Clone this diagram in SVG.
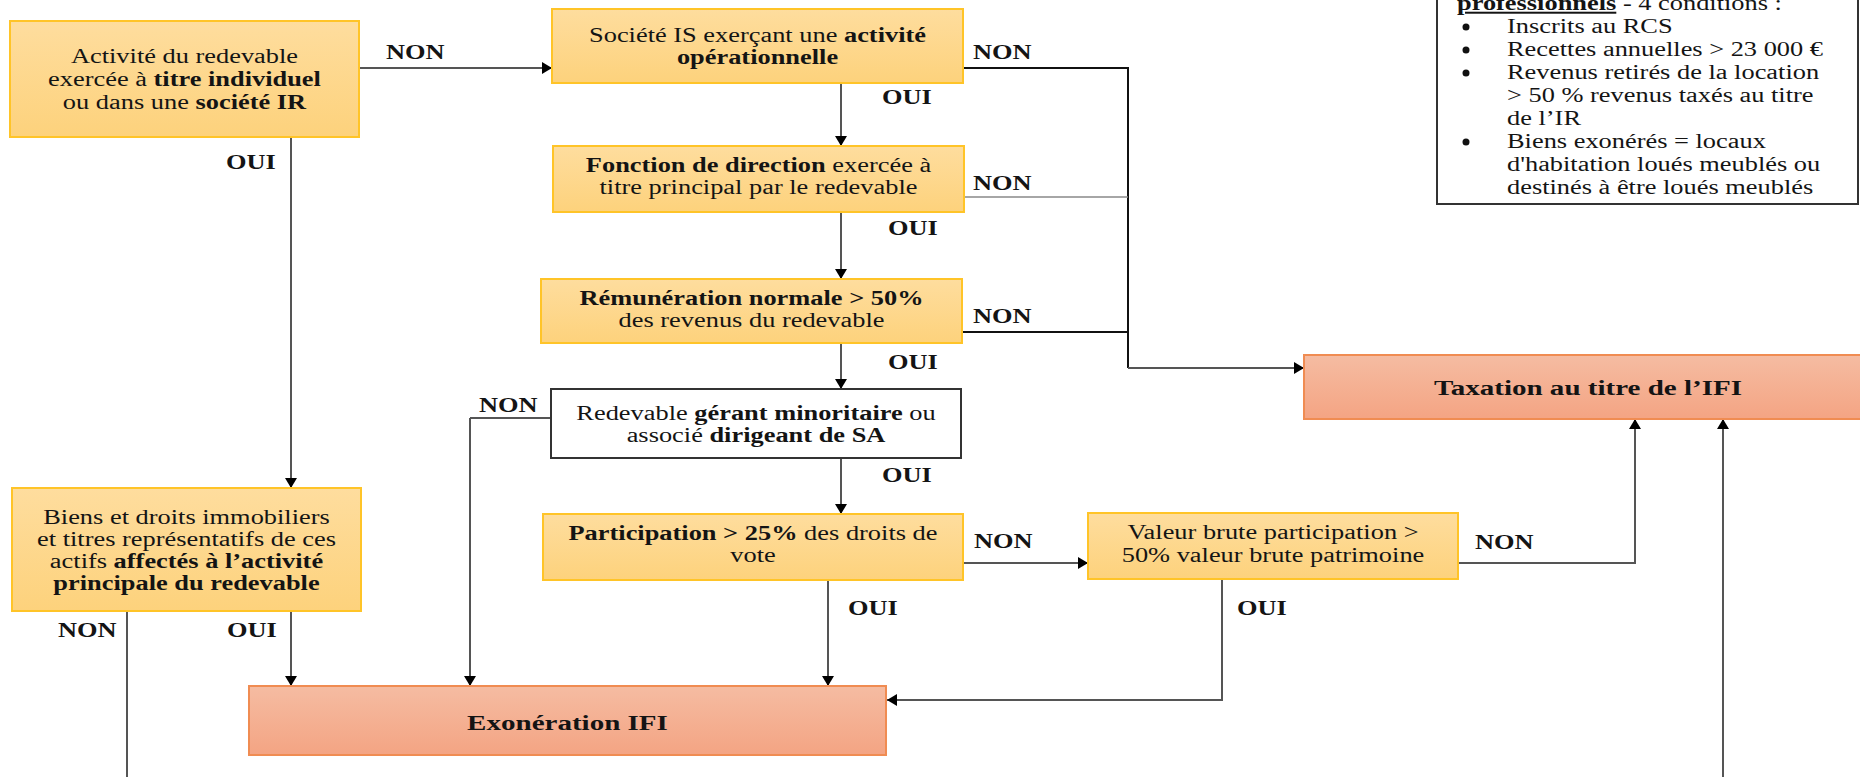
<svg xmlns="http://www.w3.org/2000/svg" width="1860" height="777" viewBox="0 0 1860 777">
<style>
text{font-family:"Liberation Serif","Times New Roman",serif;font-size:20px;fill:#141414}
.b{font-weight:bold}
.big{font-size:22px;font-weight:bold}
.yel{fill:url(#gy);stroke:#FFC428;stroke-width:2}
.sal{fill:url(#gs);stroke:#F08C52;stroke-width:2}
.wht{fill:#fff;stroke:#333;stroke-width:2}
.c{fill:none;stroke:#555;stroke-width:2}
.ca{fill:none;stroke:#555;stroke-width:2;marker-end:url(#ah)}
.thin{fill:none;stroke:#888;stroke-width:1.5}
.dk{fill:none;stroke:#111;stroke-width:2}
</style>
<defs>
<linearGradient id="gy" x1="0" y1="0" x2="0" y2="1"><stop offset="0" stop-color="#FEDD9E"/><stop offset="1" stop-color="#FDD27C"/></linearGradient>
<linearGradient id="gs" x1="0" y1="0" x2="0" y2="1"><stop offset="0" stop-color="#F5BCA2"/><stop offset="1" stop-color="#F4A483"/></linearGradient>
<marker id="ah" markerWidth="12" markerHeight="12" refX="10" refY="6" orient="auto" markerUnits="userSpaceOnUse"><path d="M0,0 L10,6 L0,12 Z" fill="#000"/></marker>
</defs>
<rect width="1860" height="777" fill="#fff"/>

<g id="connectors">
<path class="ca" d="M359,68 H552"/>
<path class="ca" d="M291,137 V488"/>
<path class="ca" d="M841,83 V146"/>
<path class="ca" d="M841,212 V279"/>
<path class="ca" d="M841,343 V389"/>
<path class="ca" d="M841,458 V514"/>
<path class="dk" d="M963,68 H1128 V368"/>
<path class="ca" d="M1128,368 H1304"/>
<path class="thin" d="M964,197 H1128"/>
<path class="dk" d="M962,332 H1128"/>
<path class="c" d="M551,418 H470"/>
<path class="ca" d="M470,418 V686"/>
<path class="ca" d="M828,580 V686"/>
<path class="ca" d="M963,563 H1088"/>
<path class="ca" d="M1222,579 V700 H887"/>
<path class="ca" d="M1458,563 H1635 V419"/>
<path class="ca" d="M1723,777 V419"/>
<path class="ca" d="M291,611 V686"/>
<path class="c" d="M127,611 V777"/>
</g>

<g id="labels">
<text class="b" transform="translate(386 0) scale(1.32 1)" y="59">NON</text>
<text class="b" transform="translate(226 0) scale(1.32 1)" y="169">OUI</text>
<text class="b" transform="translate(973 0) scale(1.32 1)" y="59">NON</text>
<text class="b" transform="translate(882 0) scale(1.32 1)" y="104">OUI</text>
<text class="b" transform="translate(973 0) scale(1.32 1)" y="190">NON</text>
<text class="b" transform="translate(888 0) scale(1.32 1)" y="235">OUI</text>
<text class="b" transform="translate(973 0) scale(1.32 1)" y="323">NON</text>
<text class="b" transform="translate(888 0) scale(1.32 1)" y="369">OUI</text>
<text class="b" transform="translate(479 0) scale(1.32 1)" y="412">NON</text>
<text class="b" transform="translate(882 0) scale(1.32 1)" y="482">OUI</text>
<text class="b" transform="translate(974 0) scale(1.32 1)" y="548">NON</text>
<text class="b" transform="translate(848 0) scale(1.32 1)" y="615">OUI</text>
<text class="b" transform="translate(1475 0) scale(1.32 1)" y="549">NON</text>
<text class="b" transform="translate(1237 0) scale(1.32 1)" y="615">OUI</text>
<text class="b" transform="translate(58 0) scale(1.32 1)" y="637">NON</text>
<text class="b" transform="translate(227 0) scale(1.32 1)" y="637">OUI</text>
</g>

<g id="n1">
<rect class="yel" x="10" y="21" width="349" height="116"/>
<text transform="translate(184.5 0) scale(1.32 1)" text-anchor="middle"><tspan x="0" y="63">Activité du redevable</tspan><tspan x="0" y="86">exercée à <tspan class="b">titre individuel</tspan></tspan><tspan x="0" y="109">ou dans une <tspan class="b">société IR</tspan></tspan></text>
</g>

<g id="n2">
<rect class="yel" x="552" y="9" width="411" height="74"/>
<text transform="translate(757.5 0) scale(1.32 1)" text-anchor="middle"><tspan x="0" y="42">Société IS exerçant une <tspan class="b">activité</tspan></tspan><tspan x="0" y="64" class="b">opérationnelle</tspan></text>
</g>

<g id="n3">
<rect class="yel" x="553" y="146" width="411" height="66"/>
<text transform="translate(758.5 0) scale(1.32 1)" text-anchor="middle"><tspan x="0" y="172"><tspan class="b">Fonction de direction</tspan> exercée à</tspan><tspan x="0" y="194">titre principal par le redevable</tspan></text>
</g>

<g id="n4">
<rect class="yel" x="541" y="279" width="421" height="64"/>
<text transform="translate(751.5 0) scale(1.32 1)" text-anchor="middle"><tspan x="0" y="305" class="b">Rémunération normale &gt; 50%</tspan><tspan x="0" y="327">des revenus du redevable</tspan></text>
</g>

<g id="n5">
<rect class="wht" x="551" y="389" width="410" height="69"/>
<text transform="translate(756 0) scale(1.32 1)" text-anchor="middle"><tspan x="0" y="420">Redevable <tspan class="b">gérant minoritaire</tspan> ou</tspan><tspan x="0" y="442">associé <tspan class="b">dirigeant de SA</tspan></tspan></text>
</g>

<g id="n6">
<rect class="yel" x="543" y="514" width="420" height="66"/>
<text transform="translate(753 0) scale(1.32 1)" text-anchor="middle"><tspan x="0" y="540"><tspan class="b">Participation &gt; 25%</tspan> des droits de</tspan><tspan x="0" y="562">vote</tspan></text>
</g>

<g id="n7">
<rect class="yel" x="1088" y="513" width="370" height="66"/>
<text transform="translate(1273 0) scale(1.32 1)" text-anchor="middle"><tspan x="0" y="539">Valeur brute participation &gt;</tspan><tspan x="0" y="562">50% valeur brute patrimoine</tspan></text>
</g>

<g id="n8">
<rect class="yel" x="12" y="488" width="349" height="123"/>
<text transform="translate(186.5 0) scale(1.32 1)" text-anchor="middle"><tspan x="0" y="524">Biens et droits immobiliers</tspan><tspan x="0" y="546">et titres représentatifs de ces</tspan><tspan x="0" y="568">actifs <tspan class="b">affectés à l’activité</tspan></tspan><tspan x="0" y="590" class="b">principale du redevable</tspan></text>
</g>

<g id="exo">
<rect class="sal" x="249" y="686" width="637" height="69"/>
<text class="big" transform="translate(567.5 0) scale(1.32 1)" text-anchor="middle" y="730">Exonération IFI</text>
</g>

<g id="tax">
<rect class="sal" x="1304" y="355" width="570" height="64"/>
<text class="big" transform="translate(1588 0) scale(1.32 1)" text-anchor="middle" y="395">Taxation au titre de l’IFI</text>
</g>

<g id="legend">
<rect x="1437" y="-10" width="421" height="214" fill="#fff" stroke="#333" stroke-width="2"/>
<text transform="translate(1507 0) scale(1.32 1)"><tspan x="-37.9" y="10"><tspan class="b" text-decoration="underline">professionnels</tspan> - 4 conditions :</tspan><tspan x="0" y="33">Inscrits au RCS</tspan><tspan x="0" y="56">Recettes annuelles &gt; 23 000 €</tspan><tspan x="0" y="79">Revenus retirés de la location</tspan><tspan x="0" y="102">&gt; 50 % revenus taxés au titre</tspan><tspan x="0" y="125">de l’IR</tspan><tspan x="0" y="148">Biens exonérés = locaux</tspan><tspan x="0" y="171">d'habitation loués meublés ou</tspan><tspan x="0" y="194">destinés à être loués meublés</tspan></text>
<circle cx="1466" cy="27" r="3.5" fill="#111"/>
<circle cx="1466" cy="50" r="3.5" fill="#111"/>
<circle cx="1466" cy="73" r="3.5" fill="#111"/>
<circle cx="1466" cy="142" r="3.5" fill="#111"/>
</g>
</svg>
